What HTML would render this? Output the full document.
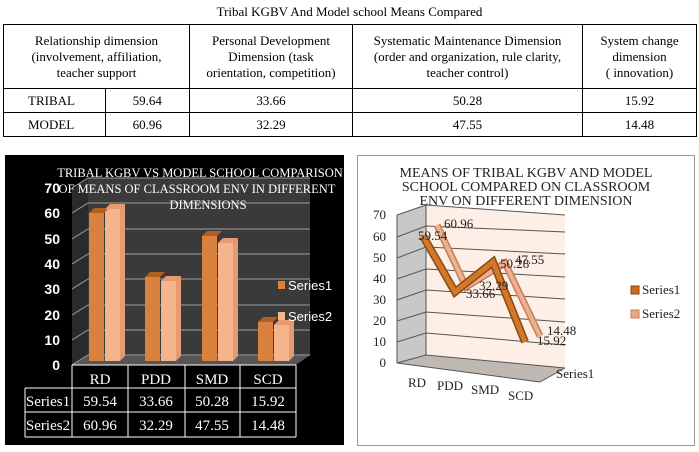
<!DOCTYPE html>
<html><head><meta charset="utf-8"><style>
body{margin:0;width:699px;height:452px;background:#fff;position:relative;overflow:hidden;font-family:"Liberation Serif",serif;}
.t{position:absolute;left:0;width:699px;top:4px;text-align:center;font-size:13px;}
table{position:absolute;left:3px;top:24px;border-collapse:collapse;font-size:13px;}
td{border:1px solid #000;text-align:center;padding:0;line-height:16px;}
</style></head><body>
<div class="t">Tribal KGBV And Model school Means Compared</div>
<table>
<tr style="height:64px"><td colspan="2" style="width:185px">Relationship dimension<br>(involvement, affiliation,<br>teacher support</td><td style="width:162px">Personal Development<br>Dimension (task<br>orientation, competition)</td><td style="width:229px">Systematic Maintenance Dimension<br>(order and organization, rule clarity,<br>teacher control)</td><td style="width:113px">System change<br>dimension<br>( innovation)</td></tr>
<tr style="height:24px"><td style="width:101px;text-align:left;padding-left:24px;box-sizing:border-box">TRIBAL</td><td style="width:83px">59.64</td><td>33.66</td><td>50.28</td><td>15.92</td></tr>
<tr style="height:24px"><td style="text-align:left;padding-left:24px">MODEL</td><td>60.96</td><td>32.29</td><td>47.55</td><td>14.48</td></tr>
</table>

<svg width="699" height="452" style="position:absolute;left:0;top:0">
<rect x="5" y="155" width="339" height="290" fill="#000"/>
<polygon points="88,178 310,178 310,355 88,355" fill="#3a3a3a"/>
<polygon points="72,190 88,178 88,355 72,365" fill="#2a2a2a"/>
<polygon points="72,365 88,355 310,355 296,365" fill="#555"/>
<g stroke="#8a8a8a" stroke-width="1.2">
<line x1="72" y1="365" x2="88" y2="355"/><line x1="88" y1="355" x2="310" y2="355"/>
<line x1="72" y1="340" x2="88" y2="330"/><line x1="88" y1="330" x2="310" y2="330"/>
<line x1="72" y1="315" x2="88" y2="305"/><line x1="88" y1="305" x2="310" y2="305"/>
<line x1="72" y1="289" x2="88" y2="279"/><line x1="88" y1="279" x2="310" y2="279"/>
<line x1="72" y1="264" x2="88" y2="254"/><line x1="88" y1="254" x2="310" y2="254"/>
<line x1="72" y1="239" x2="88" y2="229"/><line x1="88" y1="229" x2="310" y2="229"/>
<line x1="72" y1="213" x2="88" y2="203"/><line x1="88" y1="203" x2="310" y2="203"/>
<line x1="72" y1="188" x2="88" y2="178"/><line x1="88" y1="178" x2="310" y2="178"/>
</g>
<g font-family="Liberation Sans,sans-serif" font-weight="bold" font-size="14" fill="#fff" text-anchor="end">
<text x="60" y="370">0</text><text x="60" y="345">10</text><text x="60" y="320">20</text><text x="60" y="294">30</text><text x="60" y="269">40</text><text x="60" y="244">50</text><text x="60" y="218">60</text><text x="60" y="193">70</text>
</g>
<g>
<g fill="#d9823f"><rect x="89" y="213" width="15" height="148"/><rect x="145" y="277" width="15" height="84"/><rect x="202" y="236" width="15" height="125"/><rect x="258" y="322" width="15" height="39"/></g>
<g fill="#f5b58c"><rect x="105" y="209" width="15" height="152"/><rect x="161" y="281" width="15" height="80"/><rect x="218" y="243" width="15" height="118"/><rect x="274" y="325" width="15" height="36"/></g>
<g fill="#b06020"><polygon points="89,213 94,208 109,208 104,213"/><polygon points="145,277 150,272 165,272 160,277"/><polygon points="202,236 207,231 222,231 217,236"/><polygon points="258,322 263,317 278,317 273,322"/></g>
<g fill="#e89a70"><polygon points="105,209 110,204 125,204 120,209"/><polygon points="120,209 125,204 125,356 120,361"/><polygon points="161,281 166,276 181,276 176,281"/><polygon points="176,281 181,276 181,356 176,361"/><polygon points="218,243 223,238 238,238 233,243"/><polygon points="233,243 238,238 238,356 233,361"/><polygon points="274,325 279,320 294,320 289,325"/><polygon points="289,325 294,320 294,356 289,361"/></g>
</g>
<g font-family="Liberation Serif,serif" font-size="12.5" fill="#fff" text-anchor="middle">
<text x="200" y="177">TRIBAL KGBV VS MODEL SCHOOL COMPARISON</text>
<text x="197" y="193">OF MEANS OF CLASSROOM ENV IN DIFFERENT</text>
<text x="208" y="209">DIMENSIONS</text>
</g>
<rect x="278" y="281" width="7" height="8" fill="#d9823f"/><rect x="278" y="312" width="7" height="8" fill="#f5b58c"/>
<g font-family="Liberation Sans,sans-serif" font-size="13" fill="#fff"><text x="288" y="290">Series1</text><text x="288" y="321">Series2</text></g>
<g stroke="#fff" stroke-width="1" fill="none">
<line x1="72" y1="365" x2="72" y2="437"/><line x1="72" y1="365" x2="296" y2="365"/><line x1="296" y1="365" x2="296" y2="437"/>
<line x1="25" y1="388" x2="296" y2="388"/><line x1="25" y1="412" x2="296" y2="412"/><line x1="25" y1="437" x2="296" y2="437"/>
<line x1="25" y1="388" x2="25" y2="437"/><line x1="128" y1="365" x2="128" y2="437"/><line x1="185" y1="365" x2="185" y2="437"/><line x1="240" y1="365" x2="240" y2="437"/>
</g>
<g font-family="Liberation Serif,serif" font-size="15" fill="#fff" text-anchor="middle">
<text x="100" y="384">RD</text><text x="156" y="384">PDD</text><text x="212" y="384">SMD</text><text x="268" y="384">SCD</text>
<text x="48" y="406">Series1</text><text x="100" y="406">59.54</text><text x="156" y="406">33.66</text><text x="212" y="406">50.28</text><text x="268" y="406">15.92</text>
<text x="48" y="430">Series2</text><text x="100" y="430">60.96</text><text x="156" y="430">32.29</text><text x="212" y="430">47.55</text><text x="268" y="430">14.48</text>
</g>

<rect x="357.5" y="155.5" width="337" height="290" fill="#fff" stroke="#999"/>
<polygon points="426,205 565,215 565,368 426,355" fill="#fdeee6"/>
<polygon points="397,215 426,205 426,355 397,363" fill="#c8c8c8"/>
<polygon points="397,363 426,355 565,368 540,382" fill="#c0b8b2"/>
<g stroke="#555" stroke-width="1" fill="none">
<line x1="397" y1="215" x2="397" y2="363"/>
<polyline points="397,363 426,355 565,368"/><line x1="397" y1="363" x2="540" y2="382"/><line x1="540" y1="382" x2="565" y2="368"/>
<polyline points="397,342 426,333 565,345"/><polyline points="397,321 426,312 565,322"/><polyline points="397,300 426,290 565,299"/><polyline points="397,279 426,269 565,277"/><polyline points="397,258 426,247 565,254"/><polyline points="397,237 426,226 565,232"/><polyline points="397,215 426,205 565,215"/>
<line x1="426" y1="205" x2="426" y2="355"/>
</g>
<polyline points="437,225 466,287 505,263 540,336" fill="none" stroke="#c0805a" stroke-width="7"/>
<polyline points="437,225 466,287 505,263 540,336" fill="none" stroke="#f0b090" stroke-width="4"/>
<polyline points="423,236 455,292 493,262 525,342" fill="none" stroke="#8a4a10" stroke-width="8"/>
<polyline points="423,236 455,292 493,262 525,342" fill="none" stroke="#d2782c" stroke-width="5"/>
<g font-family="Liberation Serif,serif" font-size="13" fill="#222">
<text x="418" y="240">59.54</text><text x="444" y="228">60.96</text>
<text x="466" y="298">33.66</text><text x="479" y="290">32.29</text>
<text x="500" y="268">50.28</text><text x="515" y="264">47.55</text>
<text x="537" y="345">15.92</text><text x="547" y="335">14.48</text>
</g>
<g font-family="Liberation Serif,serif" font-size="14" fill="#222" text-anchor="middle">
<text x="526" y="177">MEANS OF TRIBAL KGBV AND MODEL</text>
<text x="526" y="191">SCHOOL COMPARED ON CLASSROOM</text>
<text x="526" y="205">ENV ON DIFFERENT DIMENSION</text>
</g>
<g font-family="Liberation Serif,serif" font-size="13" fill="#222" text-anchor="end">
<text x="386" y="219">70</text><text x="386" y="241">60</text><text x="386" y="262">50</text><text x="386" y="283">40</text><text x="386" y="304">30</text><text x="386" y="325">20</text><text x="386" y="346">10</text><text x="386" y="367">0</text>
</g>
<g font-family="Liberation Serif,serif" font-size="13" fill="#222">
<text x="408" y="387">RD</text><text x="437" y="390">PDD</text><text x="471" y="394">SMD</text><text x="508" y="400">SCD</text>
<text x="556" y="378">Series1</text>
</g>
<rect x="631" y="286" width="8" height="8" fill="#c86a20" stroke="#8a4a10"/><rect x="631" y="310" width="8" height="8" fill="#eea888" stroke="#c0805a"/>
<g font-family="Liberation Serif,serif" font-size="13" fill="#222"><text x="642" y="294">Series1</text><text x="642" y="318">Series2</text></g>
</svg>
</body></html>
